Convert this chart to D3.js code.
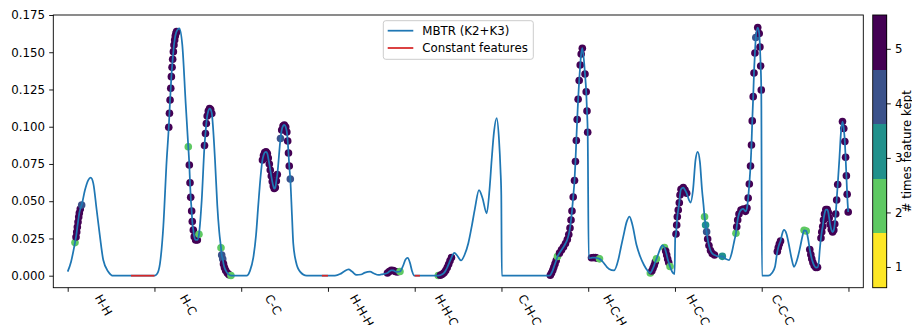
<!DOCTYPE html>
<html>
<head>
<meta charset="utf-8">
<script src="https://cdn.jsdelivr.net/npm/d3@7"></script>
<style>
  body { margin: 0; background: #fff; }
  svg { display: block; }
  text { font-family: "DejaVu Sans", sans-serif; }
</style>
</head>
<body>
<svg id="chart" width="912" height="325"></svg>
<script>
// ---- data ---------------------------------------------------------------
// Descriptor blocks (one per k-body term) and their tick positions
const segmentLabels = ["H-H", "H-C", "C-C", "H-H-H", "H-H-C", "C-H-C", "H-C-H", "H-C-C", "C-C-C"];
const labelCenters = [41.2, 139.0, 236.8, 339.0, 436.7, 532.6, 630.7, 726.7, 824.5];
const boundaryTicks = [0, 100, 200, 300, 400, 500, 600, 700, 800, 900];
const yTicks = [0, 0.025, 0.05, 0.075, 0.1, 0.125, 0.15, 0.175];

// MBTR spectrum samples [feature index, value]
const spectrumSamples = [
  // H-H
  [0, 0.0027], [3.8, 0.0092], [19.9, 0.0575], [23.7, 0.0642], [26.5, 0.0658], [29.5, 0.0620],
  [33.4, 0.0441], [37.2, 0.0262], [41.0, 0.0105], [46.8, 0.0027], [52.6, 0], [100, 0],
  // H-C
  [102.9, 0.0011], [106.4, 0.0083], [110.2, 0.0329], [114.1, 0.0777], [128.6, 0.1661],
  [132.1, 0.1549], [136.0, 0.1157], [154.5, 0.0508], [169.8, 0.0777], [172.4, 0.0475],
  [174.7, 0.0293], [194.0, 0],
  // C-C
  [206.3, 0], [210.1, 0.0032], [213.9, 0.0119], [217.1, 0.0273], [219.7, 0.0475], [222.5, 0.0676],
  [258.5, 0.0407], [260.0, 0.0218], [263.2, 0.0092], [267.8, 0.0027], [275.5, 0],
  // H-H-H
  [308.1, 0.0001], [313.9, 0.0011], [318.5, 0.0028], [323.7, 0.0042], [327.7, 0.0028],
  [333.1, 0.0005], [338.1, 0.0008], [342.7, 0.0021], [348.5, 0.0027], [353.1, 0.0015],
  [358.0, 0.0005], [363.4, 0.0011], [386.5, 0.0065], [389.4, 0.0109], [391.9, 0.0119],
  [394.6, 0.0085], [396.9, 0.0032], [399.5, 0],
  // H-H-C
  [425.7, 0], [445.6, 0.0154], [449.3, 0.0132], [453.4, 0.0102], [457.4, 0.0139], [461.8, 0.0218],
  [466.0, 0.034], [469.5, 0.0454], [474.1, 0.0575], [478.1, 0.0522], [483.0, 0.0419],
  [486.2, 0.0575], [488.7, 0.0777], [491.4, 0.0965], [494.5, 0.1057], [497.2, 0.0911],
  [498.9, 0.071], [499.8, 0.0542],
  // C-H-C
  [500.4, 0], [554.0, 0],
  // H-C-H
  [600.6, 0.0117], [617.0, 0.0092], [621.6, 0.0058], [624.0, 0.0045], [629.7, 0.0035],
  [634.9, 0.0112], [637.8, 0.0193], [640.4, 0.0262], [644.4, 0.0363], [647.6, 0.0397],
  [651.0, 0.034], [655.7, 0.0206], [659.7, 0.0132], [664.3, 0.0072], [668.3, 0.0035],
  [681.6, 0.0159], [683.9, 0.0193], [685.6, 0.0203], [696.6, 0.0028], [699.5, 0.0011],
  // H-C-C
  [700.3, 0.0253], [716.2, 0.0508], [717.9, 0.0491], [720.8, 0.0575], [723.7, 0.0777],
  [726.2, 0.0832], [728.8, 0.0763], [731.2, 0.0575], [732.9, 0.0475], [750.2, 0.013],
  [758.8, 0.0112], [762.3, 0.0105], [765.7, 0.0159], [768.6, 0.024],
  // C-C-C
  [800.3, 0], [807.6, 0], [811.8, 0.0018], [815.3, 0.006], [823.4, 0.0277], [825.7, 0.0307],
  [828.6, 0.028], [831.4, 0.0206], [834.3, 0.0119], [837.2, 0.006], [840.7, 0.0105],
  [844.1, 0.0186], [847.0, 0.0267], [853.3, 0.0253], [865.8, 0.0092], [866.9, 0.0173],
  [889.6, 0.079], [891.4, 0.0965]
];

// Selected features [feature index, value, times kept]
const keptFeatures = [
  // H-H
  [8.4, 0.0222, 2], [9.6, 0.026, 5], [10.4, 0.0293, 5], [11.1, 0.0327, 5], [11.9, 0.036, 5],
  [12.7, 0.0394, 5], [13.4, 0.0421, 5], [14.5, 0.0448, 5], [16.1, 0.0475, 4],
  // H-C
  [116.5, 0.0996, 5], [117.3, 0.109, 5], [118.0, 0.1179, 5], [118.8, 0.1258, 5], [119.5, 0.1336, 5],
  [120.3, 0.1399, 5], [121.0, 0.1453, 5], [121.8, 0.1504, 5], [122.5, 0.1549, 5], [123.3, 0.1582, 5],
  [124.0, 0.1609, 5], [124.8, 0.1627, 5], [125.5, 0.1639, 5],
  [139.0, 0.0866, 2], [140.2, 0.0743, 5], [141.0, 0.0624, 5], [141.8, 0.0526, 5], [142.9, 0.0434, 5],
  [143.6, 0.0363, 5], [144.8, 0.0307, 5], [145.9, 0.0262, 5], [147.5, 0.024, 5], [149.4, 0.024, 5],
  [151.3, 0.0278, 2],
  [157.7, 0.0874, 5], [158.8, 0.0955, 5], [159.8, 0.1022, 5], [160.8, 0.1072, 5], [162.1, 0.1106, 5],
  [163.5, 0.1122, 5], [164.8, 0.1116, 5], [166.1, 0.1089, 5],
  [176.7, 0.0188, 2], [177.5, 0.0139, 4], [178.7, 0.0112, 4], [179.6, 0.0079, 5], [180.7, 0.0055, 5],
  [182.1, 0.0035, 5], [184.0, 0.0018, 5], [185.9, 0.0007, 5], [188.2, 0.0001, 2],
  // C-C
  [224.5, 0.0777, 5], [225.7, 0.0807, 5], [227.1, 0.0827, 5], [228.6, 0.0832, 5], [230.1, 0.082, 5],
  [231.2, 0.079, 5], [232.4, 0.075, 5], [233.5, 0.071, 5], [234.7, 0.0669, 5], [235.8, 0.0632, 5],
  [237.0, 0.0602, 5], [238.1, 0.0585, 5], [239.3, 0.0592, 5], [240.5, 0.0636, 5], [241.6, 0.0679, 5],
  [245.3, 0.0921, 4], [246.7, 0.0978, 5], [248.2, 0.1005, 5], [249.7, 0.1012, 5], [251.3, 0.0998, 5],
  [252.6, 0.0965, 5], [253.6, 0.0904, 5], [254.5, 0.0824, 5], [255.4, 0.0736, 5], [256.6, 0.0649, 4],
  // H-H-H
  [368.6, 0.0018, 5], [370.7, 0.0028, 5], [373.0, 0.0036, 5], [375.3, 0.0035, 5], [377.6, 0.0028, 5],
  [379.9, 0.0025, 5], [383.0, 0.0028, 2],
  // H-H-C
  [427.2, 0.0001, 2], [429.5, 0.0003, 5], [431.7, 0.0009, 5], [433.8, 0.0019, 5], [435.7, 0.0035, 5],
  [437.5, 0.0055, 5], [439.1, 0.0077, 5], [440.7, 0.01, 5], [442.4, 0.0122, 5],
  // C-H-C
  [556.3, 0.0003, 5], [557.7, 0.0018, 5], [559.1, 0.0036, 5], [560.3, 0.0056, 5], [561.7, 0.0079, 5],
  [563.1, 0.0102, 5], [564.6, 0.0129, 2], [566.9, 0.0152, 5], [569.2, 0.0173, 5], [571.5, 0.0193, 5],
  [573.8, 0.0216, 5], [575.9, 0.0243, 5], [577.6, 0.0277, 5], [579.0, 0.032, 5], [580.2, 0.0374, 5],
  [581.3, 0.0434, 5], [582.7, 0.0528, 5], [584.2, 0.0639, 5], [585.3, 0.0767, 5], [586.3, 0.0908, 5],
  [587.3, 0.1049, 5], [588.4, 0.1184, 5], [589.6, 0.131, 5], [590.8, 0.1414, 5], [591.9, 0.1488, 5],
  [593.2, 0.1527, 5], [596.3, 0.1354, 5], [597.7, 0.1235, 5], [598.6, 0.1106, 5], [599.4, 0.0963, 5],
  // H-C-H
  [603.8, 0.012, 5], [606.1, 0.0122, 5], [608.4, 0.0121, 5], [610.7, 0.0117, 5], [613.0, 0.0113, 2],
  [671.6, 0.0018, 2], [673.3, 0.0032, 5], [674.7, 0.005, 5], [676.1, 0.007, 5], [677.3, 0.0092, 5],
  [678.7, 0.0113, 2],
  [687.9, 0.0189, 2], [689.3, 0.0166, 5], [690.5, 0.0139, 5], [691.6, 0.0112, 5], [692.8, 0.0089, 5],
  [694.3, 0.0062, 2],
  // H-C-C
  [701.2, 0.028, 5], [702.0, 0.034, 5], [702.7, 0.0396, 5], [703.8, 0.0441, 5], [705.0, 0.049, 5],
  [705.8, 0.0542, 5], [707.0, 0.058, 5], [709.6, 0.0591, 5], [711.6, 0.0575, 5], [713.5, 0.0553, 5],
  [734.1, 0.0396, 2], [735.3, 0.034, 3], [736.5, 0.0295, 4], [737.7, 0.0246, 5], [739.2, 0.0203, 5],
  [741.0, 0.0169, 5], [743.0, 0.0149, 5], [745.6, 0.0139, 5], [754.6, 0.013, 3],
  [770.3, 0.0285, 2], [771.2, 0.0329, 5], [772.3, 0.0374, 5], [773.8, 0.0414, 5], [776.1, 0.0441, 5],
  [778.8, 0.0448, 5], [781.3, 0.0432, 5], [783.0, 0.0454, 5], [784.4, 0.0522, 5], [785.7, 0.0616, 5],
  [787.1, 0.0736, 5], [788.2, 0.0877, 5], [789.1, 0.1039, 5], [790.2, 0.1202, 5], [791.1, 0.1361, 5],
  [792.2, 0.1495, 5], [793.2, 0.1599, 4], [795.4, 0.1666, 5], [797.1, 0.1626, 5], [798.0, 0.1535, 5],
  [798.8, 0.1408, 5], [799.5, 0.1247, 5],
  // C-C-C
  [818.0, 0.0162, 5], [819.1, 0.0189, 5], [820.3, 0.0213, 5], [821.7, 0.0233, 5],
  [848.9, 0.0305, 2], [851.3, 0.03, 2],
  [855.4, 0.0176, 5], [856.6, 0.0142, 5], [857.7, 0.0113, 5], [859.0, 0.0089, 5], [860.5, 0.0068, 5],
  [862.4, 0.0055, 5], [864.3, 0.0056, 5],
  [868.3, 0.0253, 5], [869.2, 0.0293, 5], [870.3, 0.033, 5], [871.2, 0.0374, 5], [872.4, 0.0414, 5],
  [873.9, 0.0444, 5], [875.5, 0.0444, 5], [876.8, 0.0424, 5], [877.8, 0.0387, 5], [878.9, 0.0344, 5],
  [880.2, 0.031, 5], [881.7, 0.0293, 5], [883.1, 0.0307, 5], [884.2, 0.0347, 5], [885.3, 0.0414, 5],
  [886.4, 0.0508, 5], [887.6, 0.0612, 5],
  [893.1, 0.1035, 5], [894.6, 0.0988, 5], [895.8, 0.0901, 5], [896.7, 0.0795, 5], [897.6, 0.0671, 5],
  [898.5, 0.0546, 5], [899.7, 0.0428, 5]
];

// Feature ranges that never vary across the dataset
const constantRanges = [[73, 100], [293, 300], [400, 406]];

// Colour bar: number of times a feature was kept
const keptLevels = [1, 2, 3, 4, 5];
const keptColors = ["#fde725", "#5ec962", "#21918c", "#3b528b", "#440154"];
const colorBounds = [0.62, 1.62, 2.62, 3.62, 4.62, 5.62];

const legendItems = [
  { label: "MBTR (K2+K3)", color: "#1f77b4" },
  { label: "Constant features", color: "#d62728" }
];

// ---- layout -------------------------------------------------------------
const FS = 11.8;
const plot = { left: 53.3, right: 863.3, top: 15, bottom: 287.7 };
const cbar = { left: 872.7, right: 886.7 };
const tickLen = 4.1, tickPad = 4.1;

const svg = d3.select("#chart");
const x = d3.scaleLinear().domain([-16.6, 917.1]).range([plot.left, plot.right]);
const y = d3.scaleLinear().domain([-0.00806, 0.175]).range([plot.bottom, plot.top]);

// kept-count markers (drawn beneath the spectrum line)
const color = d3.scaleOrdinal().domain(keptLevels).range(keptColors);
svg.append("g")
  .selectAll("circle")
  .data(keptFeatures)
  .join("circle")
  .attr("cx", d => x(d[0]))
  .attr("cy", d => y(d[1]))
  .attr("r", 3.8)
  .attr("fill", d => color(d[2]));

// spectrum line through all samples (selected features are points of the same spectrum)
const linePoints = spectrumSamples.concat(keptFeatures.map(d => [d[0], d[1]]))
  .sort((a, b) => a[0] - b[0]);
const line = d3.line().x(d => x(d[0])).y(d => y(d[1])).curve(d3.curveMonotoneX);
svg.append("path")
  .datum(linePoints)
  .attr("d", line)
  .attr("fill", "none")
  .attr("stroke", "#1f77b4")
  .attr("stroke-width", 1.75)
  .attr("stroke-linejoin", "round");

// constant features
svg.append("g")
  .selectAll("line")
  .data(constantRanges)
  .join("line")
  .attr("x1", d => x(d[0]))
  .attr("x2", d => x(d[1]))
  .attr("y1", y(0))
  .attr("y2", y(0))
  .attr("stroke", "#d62728")
  .attr("stroke-width", 1.75);

// axes
const yAxis = svg.append("g")
  .attr("transform", `translate(${plot.left},0)`)
  .call(d3.axisLeft(y).tickValues(yTicks).tickFormat(d3.format(".3f"))
    .tickSize(tickLen).tickPadding(tickPad));
yAxis.select(".domain").remove();
yAxis.selectAll("line").attr("stroke", "#000").attr("stroke-width", 0.9);
yAxis.selectAll("text").attr("font-size", FS).attr("font-family", "DejaVu Sans").attr("fill", "#000");

const xAxis = svg.append("g")
  .attr("transform", `translate(0,${plot.bottom})`)
  .call(d3.axisBottom(x).tickValues(boundaryTicks).tickFormat(() => "").tickSize(tickLen));
xAxis.select(".domain").remove();
xAxis.selectAll("line").attr("stroke", "#000").attr("stroke-width", 0.9);

// frame
svg.append("rect")
  .attr("x", plot.left).attr("y", plot.top)
  .attr("width", plot.right - plot.left).attr("height", plot.bottom - plot.top)
  .attr("fill", "none").attr("stroke", "#000").attr("stroke-width", 0.9);

// rotated block labels, centred on their position like rotated tick labels
const asc = 0.928 * FS, desc = 0.236 * FS, cap = 0.729 * FS;
const rad = Math.PI / 3;
const labelTop = plot.bottom + tickLen + 1.5;
segmentLabels.forEach((lab, i) => {
  const t = svg.append("text")
    .attr("font-size", FS)
    .attr("fill", "#000")
    .text(lab);
  const L = t.node().getComputedTextLength();
  const bw = L * Math.cos(rad) + (asc + desc) * Math.sin(rad);
  const left = x(labelCenters[i]) - bw / 2;
  const ax = left + desc * Math.sin(rad);
  const ay = labelTop + cap * Math.cos(rad);
  t.attr("transform", `translate(${ax},${ay}) rotate(60)`);
});

// legend
const lg = svg.append("g");
lg.append("rect")
  .attr("x", 383.3).attr("y", 20.7).attr("width", 150).attr("height", 38.6)
  .attr("rx", 2.5)
  .attr("fill", "#fff").attr("fill-opacity", 0.8)
  .attr("stroke", "#cccccc").attr("stroke-width", 1);
legendItems.forEach((it, i) => {
  const yy = 30.7 + i * 17.3;
  lg.append("line")
    .attr("x1", 387.7).attr("x2", 413.3).attr("y1", yy).attr("y2", yy)
    .attr("stroke", it.color).attr("stroke-width", 1.75);
  lg.append("text")
    .attr("x", 422.3).attr("y", yy)
    .attr("dy", "0.36em")
    .attr("font-size", FS).attr("fill", "#000")
    .text(it.label);
});

// colour bar
const cy = d3.scaleLinear().domain([colorBounds[0], colorBounds[colorBounds.length - 1]])
  .range([plot.bottom, plot.top]);
const cb = svg.append("g");
cb.selectAll("rect.block")
  .data(keptLevels)
  .join("rect")
  .attr("class", "block")
  .attr("x", cbar.left)
  .attr("width", cbar.right - cbar.left)
  .attr("y", (d, i) => cy(colorBounds[i + 1]))
  .attr("height", (d, i) => cy(colorBounds[i]) - cy(colorBounds[i + 1]))
  .attr("fill", d => color(d))
  .attr("shape-rendering", "crispEdges");
cb.append("rect")
  .attr("x", cbar.left).attr("y", plot.top)
  .attr("width", cbar.right - cbar.left).attr("height", plot.bottom - plot.top)
  .attr("fill", "none").attr("stroke", "#000").attr("stroke-width", 0.9);
const cAxis = cb.append("g")
  .attr("transform", `translate(${cbar.right},0)`)
  .call(d3.axisRight(cy).tickValues(keptLevels).tickFormat(d3.format("d"))
    .tickSize(tickLen).tickPadding(tickPad));
cAxis.select(".domain").remove();
cAxis.selectAll("line").attr("stroke", "#000").attr("stroke-width", 0.9);
cAxis.selectAll("text").attr("font-size", FS).attr("font-family", "DejaVu Sans").attr("fill", "#000");

svg.append("text")
  .attr("transform", `translate(910.7,${(plot.top + plot.bottom) / 2}) rotate(-90)`)
  .attr("text-anchor", "middle")
  .attr("font-size", FS)
  .attr("fill", "#000")
  .text("# times feature kept");
</script>
</body>
</html>
